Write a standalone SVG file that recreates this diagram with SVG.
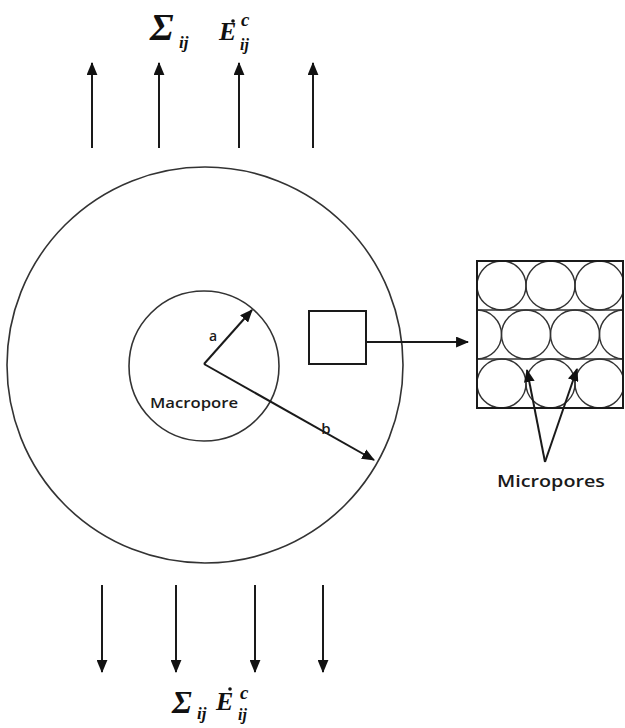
<svg xmlns="http://www.w3.org/2000/svg" width="625" height="728" viewBox="0 0 625 728">
<style>
.ln{stroke:#1a1a1a;stroke-width:2;fill:none}
.cir{stroke:#333;stroke-width:1.6;fill:none}
.mc{stroke:#333;stroke-width:1.4;fill:none}
.sans{font-family:"Open Sans","Liberation Sans",sans-serif;fill:#1a1a1a;font-weight:600}
.math{font-family:"Liberation Serif","DejaVu Serif",serif;fill:#111;font-weight:bold}
.it{font-style:italic}
</style>
<defs>
<marker id="ah" viewBox="0 0 12 10" refX="11" refY="5" markerWidth="13" markerHeight="11" markerUnits="userSpaceOnUse" orient="auto">
<path d="M0,0 L12,5 L0,10 Z" fill="#111"/>
</marker>
<clipPath id="boxclip"><rect x="477" y="261" width="146" height="147"/></clipPath>
</defs>
<rect width="625" height="728" fill="#fff"/>

<g id="outer-circle"><circle class="cir" cx="205" cy="365" r="198"/></g>
<g id="macropore">
<circle class="cir" cx="204" cy="366" r="75"/>
<text class="sans" x="194" y="408" font-size="15" text-anchor="middle" textLength="88" lengthAdjust="spacingAndGlyphs">Macropore</text>
</g>
<g id="small-square"><rect class="ln" x="309" y="311" width="57" height="53" stroke-width="1.6"/></g>

<g id="micropore-box">
<g clip-path="url(#boxclip)">
<line class="mc" x1="477" y1="310" x2="623" y2="310"/>
<line class="mc" x1="477" y1="359" x2="623" y2="359"/>
<circle class="mc" cx="501.5" cy="285.5" r="24.5"/>
<circle class="mc" cx="550.5" cy="285.5" r="24.5"/>
<circle class="mc" cx="599.5" cy="285.5" r="24.5"/>
<circle class="mc" cx="477" cy="334.5" r="24.5"/>
<circle class="mc" cx="526" cy="334.5" r="24.5"/>
<circle class="mc" cx="575" cy="334.5" r="24.5"/>
<circle class="mc" cx="624" cy="334.5" r="24.5"/>
<circle class="mc" cx="501.5" cy="383.5" r="24.5"/>
<circle class="mc" cx="550.5" cy="383.5" r="24.5"/>
<circle class="mc" cx="599.5" cy="383.5" r="24.5"/>
</g>
<rect x="477" y="261" width="146" height="147" fill="none" stroke="#1a1a1a" stroke-width="2"/>
<text class="sans" x="551" y="487" font-size="16" text-anchor="middle" textLength="108" lengthAdjust="spacingAndGlyphs">Micropores</text>
</g>

<g id="top-labels">
<text class="math it" x="150" y="40" font-size="38">Σ</text>
<text class="math it" x="179" y="48" font-size="17">ij</text>
<text class="math it" x="219" y="40" font-size="26">E</text>
<circle cx="233" cy="21" r="1.8" fill="#111"/>
<text class="math it" x="241" y="26" font-size="19">c</text>
<text class="math it" x="240" y="50" font-size="16">ij</text>
</g>
<g id="bottom-labels">
<text class="math it" x="172" y="713" font-size="32">Σ</text>
<text class="math it" x="197" y="719" font-size="17">ij</text>
<text class="math it" x="216" y="710" font-size="26">E</text>
<circle cx="230" cy="689" r="1.8" fill="#111"/>
<text class="math it" x="240" y="699" font-size="19">c</text>
<text class="math it" x="238" y="720" font-size="16">ij</text>
</g>

<g id="connectors">
<line class="ln" x1="92" y1="148" x2="92" y2="63" marker-end="url(#ah)"/>
<line class="ln" x1="159" y1="148" x2="159" y2="63" marker-end="url(#ah)"/>
<line class="ln" x1="239" y1="148" x2="239" y2="63" marker-end="url(#ah)"/>
<line class="ln" x1="313" y1="148" x2="313" y2="63" marker-end="url(#ah)"/>
<line class="ln" x1="102" y1="585" x2="102" y2="672" marker-end="url(#ah)"/>
<line class="ln" x1="176" y1="585" x2="176" y2="672" marker-end="url(#ah)"/>
<line class="ln" x1="255" y1="585" x2="255" y2="672" marker-end="url(#ah)"/>
<line class="ln" x1="323" y1="585" x2="323" y2="672" marker-end="url(#ah)"/>
<line class="ln" x1="204" y1="364" x2="252" y2="310" marker-end="url(#ah)"/>
<line class="ln" x1="204" y1="364" x2="374" y2="460" marker-end="url(#ah)"/>
<line class="ln" x1="366" y1="342" x2="468" y2="342" marker-end="url(#ah)"/>
<line class="ln" x1="545" y1="462" x2="527" y2="370" marker-end="url(#ah)"/>
<line class="ln" x1="545" y1="462" x2="577" y2="369" marker-end="url(#ah)"/>
<text class="sans" x="213" y="341" font-size="14" text-anchor="middle">a</text>
<text class="sans" x="326" y="434" font-size="15" text-anchor="middle">b</text>
</g>
</svg>
